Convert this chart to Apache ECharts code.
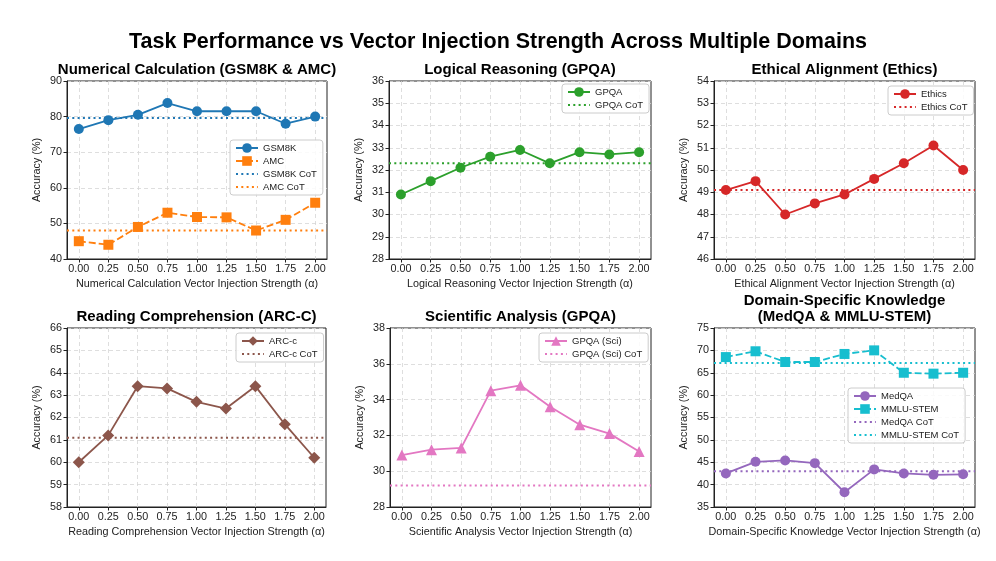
<!DOCTYPE html>
<html><head><meta charset="utf-8">
<script src="https://cdn.jsdelivr.net/npm/echarts@6/dist/echarts.min.js"></script>
<style>html,body{margin:0;padding:0;background:#fff}#c{width:996px;height:561px}</style>
</head><body><div id="c"></div><script>
// ---- data ----
const alphas = [0, 0.25, 0.5, 0.75, 1.0, 1.25, 1.5, 1.75, 2.0];
const gsm8k = [76.5, 79.0, 80.5, 83.8, 81.5, 81.5, 81.5, 78.0, 80.0];
const amc = [45.0, 44.0, 49.0, 53.0, 51.8, 51.7, 48.0, 51.0, 55.8];
const gsm8kCot = 79.6, amcCot = 48.0;
const gpqa = [30.9, 31.5, 32.1, 32.6, 32.9, 32.3, 32.8, 32.7, 32.8];
const gpqaCot = 32.3;
const ethics = [49.1, 49.5, 48.0, 48.5, 48.9, 49.6, 50.3, 51.1, 50.0];
const ethicsCot = 49.1;
const arcc = [60.0, 61.2, 63.4, 63.3, 62.7, 62.4, 63.4, 61.7, 60.2];
const arccCot = 61.1;
const gpqaSci = [30.9, 31.2, 31.3, 34.5, 34.8, 33.6, 32.6, 32.1, 31.1];
const gpqaSciCot = 29.2;
const medqa = [42.5, 45.1, 45.4, 44.8, 38.3, 43.4, 42.5, 42.2, 42.3];
const mmluStem = [68.5, 69.8, 67.4, 67.4, 69.2, 70.0, 65.0, 64.8, 65.0];
const medqaCot = 43.0, mmluStemCot = 67.2;

const C = {blue:'#1f77b4', orange:'#ff7f0e', green:'#2ca02c', red:'#d62728', purple:'#9467bd', brown:'#8c564b', pink:'#e377c2', cyan:'#17becf'};
const XMIN = -0.1, XMAX = 2.1;
const FONT = 'Liberation Sans, Arial, sans-serif';

const panels = [
  {title:['Numerical Calculation (GSM8K & AMC)'], xname:'Numerical Calculation Vector Injection Strength (α)',
   y:[40,90,10], grid:{left:67,top:81,width:260,height:178}, legend:{left:230,top:140},
   lines:[{name:'GSM8K',data:gsm8k,color:C.blue,symbol:'circle',size:10},{name:'AMC',data:amc,color:C.orange,symbol:'rect',size:10,dashed:true}],
   cots:[{name:'GSM8K CoT',v:gsm8kCot,color:C.blue},{name:'AMC CoT',v:amcCot,color:C.orange}]},
  {title:['Logical Reasoning (GPQA)'], xname:'Logical Reasoning Vector Injection Strength (α)',
   y:[28,36,1], grid:{left:389,top:81,width:262,height:178}, legend:{left:562,top:84},
   lines:[{name:'GPQA',data:gpqa,color:C.green,symbol:'circle',size:10}],
   cots:[{name:'GPQA CoT',v:gpqaCot,color:C.green}]},
  {title:['Ethical Alignment (Ethics)'], xname:'Ethical Alignment Vector Injection Strength (α)',
   y:[46,54,1], grid:{left:714,top:81,width:261,height:178}, legend:{left:888,top:86},
   lines:[{name:'Ethics',data:ethics,color:C.red,symbol:'circle',size:10}],
   cots:[{name:'Ethics CoT',v:ethicsCot,color:C.red}]},
  {title:['Reading Comprehension (ARC-C)'], xname:'Reading Comprehension Vector Injection Strength (α)',
   y:[58,66,1], grid:{left:67,top:328,width:259,height:179}, legend:{left:236,top:333},
   lines:[{name:'ARC-c',data:arcc,color:C.brown,symbol:'diamond',size:12}],
   cots:[{name:'ARC-c CoT',v:arccCot,color:C.brown}]},
  {title:['Scientific Analysis (GPQA)'], xname:'Scientific Analysis Vector Injection Strength (α)',
   y:[28,38,2], grid:{left:390,top:328,width:261,height:179}, legend:{left:539,top:333},
   lines:[{name:'GPQA (Sci)',data:gpqaSci,color:C.pink,symbol:'triangle',size:11}],
   cots:[{name:'GPQA (Sci) CoT',v:gpqaSciCot,color:C.pink}]},
  {title:['Domain-Specific Knowledge','(MedQA & MMLU-STEM)'], xname:'Domain-Specific Knowledge Vector Injection Strength (α)',
   y:[35,75,5], grid:{left:714,top:328,width:261,height:179}, legend:{left:848,top:388},
   lines:[{name:'MedQA',data:medqa,color:C.purple,symbol:'circle',size:10},{name:'MMLU-STEM',data:mmluStem,color:C.cyan,symbol:'rect',size:10,dashed:true}],
   cots:[{name:'MedQA CoT',v:medqaCot,color:C.purple},{name:'MMLU-STEM CoT',v:mmluStemCot,color:C.cyan}]}
];

const grids=[], xAxes=[], yAxes=[], series=[], legends=[], graphics=[];
graphics.push({type:'text', x:498, y:42, style:{text:'Task Performance vs Vector Injection Strength Across Multiple Domains', font:'bold 21.5px '+FONT, fill:'#000', textAlign:'center', textVerticalAlign:'middle', align:'center', verticalAlign:'middle'}});

panels.forEach((p,i)=>{
  grids.push(Object.assign({show:true, borderColor:'#222', borderWidth:1, backgroundColor:'transparent', containLabel:false}, p.grid));
  const cx = p.grid.left + p.grid.width/2;
  const n = p.title.length;
  p.title.forEach((t,k)=>{
    graphics.push({type:'text', x:cx, y:p.grid.top - 11 - (n-1-k)*16, style:{text:t, font:'bold 15px '+FONT, fill:'#000', textAlign:'center', textVerticalAlign:'middle', align:'center', verticalAlign:'middle'}});
  });
  xAxes.push({type:'value', gridIndex:i, min:XMIN, max:XMAX,
    name:p.xname, nameLocation:'middle', nameGap:20, nameTextStyle:{fontSize:10.8, color:'#222', fontFamily:FONT},
    axisLine:{show:true, onZero:false, lineStyle:{color:'#222', width:1}},
    axisTick:{show:true, length:3.5, customValues:alphas, lineStyle:{color:'#222'}},
    axisLabel:{customValues:alphas, formatter:v=>Number(v).toFixed(2), fontSize:10.8, color:'#222', fontFamily:FONT, margin:5},
    splitLine:{show:true, lineStyle:{type:[4,3], color:'#d6d6d6', width:0.8}}});
  yAxes.push({type:'value', gridIndex:i, min:p.y[0], max:p.y[1], interval:p.y[2],
    name:'Accuracy (%)', nameLocation:'middle', nameGap:24, nameRotate:90, nameTextStyle:{fontSize:10.8, color:'#222', fontFamily:FONT},
    axisLine:{show:true, onZero:false, lineStyle:{color:'#222', width:1}},
    axisTick:{show:true, length:3.5, lineStyle:{color:'#222'}},
    axisLabel:{fontSize:10.8, color:'#222', fontFamily:FONT, margin:5},
    splitLine:{show:true, lineStyle:{type:[4,3], color:'#d6d6d6', width:0.8}}});
  const names=[];
  p.lines.forEach(l=>{
    names.push({name:l.name});
    series.push({type:'line', name:l.name, xAxisIndex:i, yAxisIndex:i, data:alphas.map((a,j)=>[a,l.data[j]]),
      symbol:l.symbol, symbolSize:l.size, showSymbol:true, color:l.color, z:3,
      lineStyle:{color:l.color, width:1.8, type:l.dashed?[7,3]:'solid'}, itemStyle:{color:l.color}, animation:false});
  });
  p.cots.forEach(c=>{
    names.push({name:c.name, itemStyle:{opacity:0, borderWidth:0, color:'transparent'}});
    series.push({type:'line', name:c.name, xAxisIndex:i, yAxisIndex:i, data:[[XMIN,c.v],[XMAX,c.v]],
      symbol:'none', showSymbol:false, color:c.color, z:2,
      lineStyle:{color:c.color, width:2, type:[2,3.3]}, animation:false});
  });
  legends.push({data:names, orient:'vertical', left:p.legend.left, top:p.legend.top, itemGap:3, itemWidth:22, itemHeight:12,
    padding:[3,6,3,5], backgroundColor:'rgba(255,255,255,0.85)', borderColor:'#ccc', borderWidth:1, borderRadius:3,
    textStyle:{fontSize:9.5, color:'#222', fontFamily:FONT}, selectedMode:false});
});

const chart = echarts.init(document.getElementById('c'), null, {renderer:'canvas'});
chart.setOption({animation:false, backgroundColor:'#fff', textStyle:{fontFamily:FONT},
  grid:grids, xAxis:xAxes, yAxis:yAxes, series:series, legend:legends, graphic:graphics});
</script></body></html>
